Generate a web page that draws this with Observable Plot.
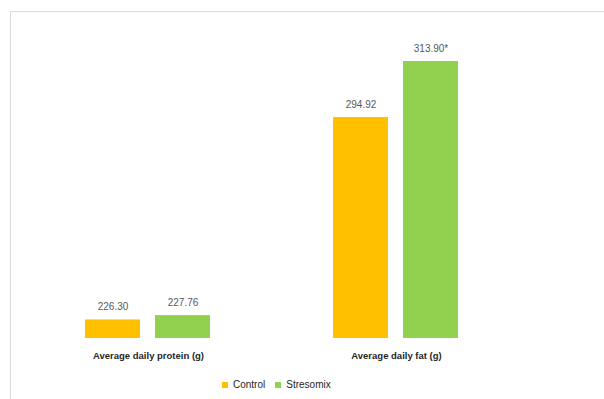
<!DOCTYPE html>
<html>
<head>
<meta charset="utf-8">
<script src="https://cdn.jsdelivr.net/npm/d3@7"></script>
<script src="https://cdn.jsdelivr.net/npm/@observablehq/plot@0.6"></script>
<style>
  html, body { margin: 0; padding: 0; background: #fff; }
  body { width: 604px; height: 399px; position: relative; overflow: hidden;
         font-family: "Liberation Sans", Arial, sans-serif; }
  #frame { position: absolute; left: 10px; top: 11px; width: 700px; height: 500px;
           border-top: 1px solid #d9d9d9; border-left: 1px solid #d9d9d9; }
  #chart { position: absolute; left: 0; top: 0; }
  #legend { position: absolute; left: 222px; top: 368px; }
</style>
</head>
<body>
<div id="frame"></div>
<div id="chart"></div>
<div id="legend"></div>
<script>
// Feed intake per cow: categories, series and values
const categories = ["Average daily protein (g)", "Average daily fat (g)"];
const series = ["Control", "Stresomix"];
const control = [226.30, 294.92];
const stresomix = [227.76, 313.90];
const stresomixMarks = ["", "*"];   // significance marks on the Stresomix bars
const colors = ["#FFC000", "#92D050"];
const yDomain = [220, 320];

const rows = categories.flatMap((category, i) => [
  {category, series: series[0], value: control[i], label: control[i].toFixed(2)},
  {category, series: series[1], value: stresomix[i], label: stresomix[i].toFixed(2) + stresomixMarks[i]}
]);

const chart = Plot.plot({
  width: 604,
  height: 370,
  marginLeft: 84,
  marginRight: 145,
  marginTop: 43,
  marginBottom: 32,
  style: {fontFamily: "Liberation Sans, Arial, sans-serif", background: "transparent"},
  fx: {domain: categories, paddingInner: 0.492, paddingOuter: 0, label: null},
  x: {domain: series, paddingInner: 0.21, paddingOuter: 0, axis: null},
  y: {domain: yDomain, axis: null},
  color: {domain: series, range: colors},
  marks: [
    Plot.barY(rows, {fx: "category", x: "series", y1: yDomain[0], y2: "value", fill: "series"}),
    Plot.text(rows, {fx: "category", x: "series", y: "value", text: "label",
                     dy: -13, fontSize: 10, fill: "#595959"}),
    Plot.axisFx({anchor: "bottom", tickSize: 0, tickPadding: 14, label: null,
                 fontSize: 9.5, fontWeight: "bold", fill: "#262626"})
  ]
});
document.getElementById("chart").appendChild(chart);

const legend = Plot.legend({
  color: {domain: series, range: colors},
  legend: "swatches",
  swatchSize: 6,
  style: {fontFamily: "Liberation Sans, Arial, sans-serif", fontSize: "10px", color: "#262626"}
});
document.getElementById("legend").appendChild(legend);
</script>
</body>
</html>
